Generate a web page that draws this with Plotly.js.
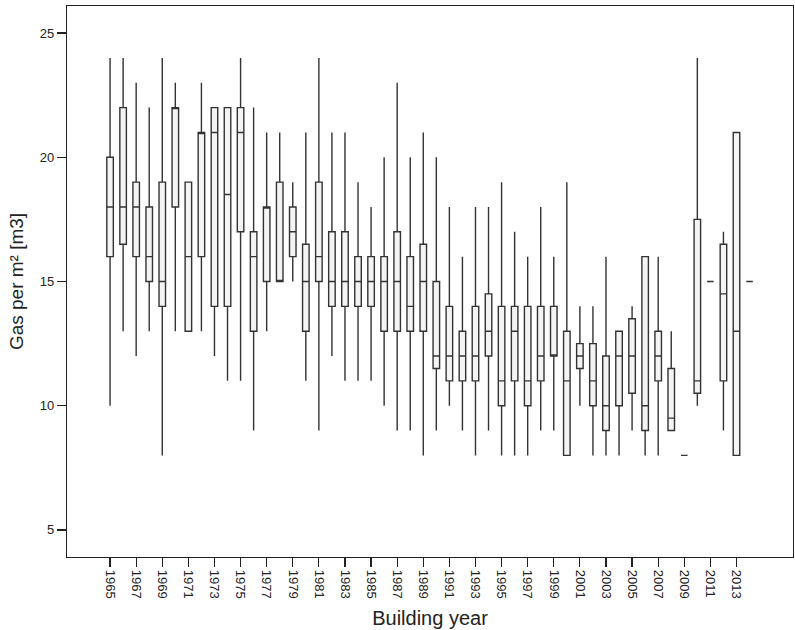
<!DOCTYPE html>
<html>
<head>
<meta charset="utf-8">
<script src="https://cdn.plot.ly/plotly-3.0.1.min.js"></script>
<style>html,body{margin:0;padding:0;background:#fff;}#chart{width:795px;height:630px;}</style>
</head>
<body>
<div id="chart"></div>
<script>
var years = [];
for (var y = 1965; y <= 2014; y++) years.push(y);

var lowerFence = [10,13,12,13,8,13,13,13,12,11,11,9,13,15,15,11,9,12,11,11,11,10,9,9,8,9,10,9,8,9,8,8,8,9,9,8,10,8,8,8,9,8,8,9,8,10,15,9,8,15];
var q1Values   = [16,16.5,16,15,14,18,13,16,14,14,17,13,15,15,16,13,15,14,14,14,14,13,13,13,13,11.5,11,11,11,12,10,11,10,11,12,8,11.5,10,9,10,10.5,9,11,9,8,10.5,15,11,8,15];
var medians    = [18,18,18,16,15,22,16,21,21,18.5,21,16,18,15,17,15,16,15,15,15,15,15,15,14,15,12,12,12,12,13,11,13,11,12,12,11,12,11,10,12,12,10,12,9.5,8,11,15,14.5,13,15];
var q3Values   = [20,22,19,18,19,22,19,21,22,22,22,17,18,19,18,16.5,19,17,17,16,16,16,17,16,16.5,15,14,13,14,14.5,14,14,14,14,14,13,12.5,12.5,12,13,13.5,16,13,11.5,8,17.5,15,16.5,21,15];
var upperFence = [24,24,23,22,24,23,19,23,22,22,24,22,21,21,19,21,24,21,21,19,18,20,23,20,21,20,18,16,18,18,19,17,16,18,16,19,14,14,16,13,14,16,16,13,8,24,15,17,21,15];

var tickYears = [];
for (var t = 1965; t <= 2013; t += 2) tickYears.push(t);
var yTicks = [5,10,15,20,25];

var trace = {
  type: 'box',
  x: years,
  q1: q1Values,
  median: medians,
  q3: q3Values,
  lowerfence: lowerFence,
  upperfence: upperFence,
  width: 0.5,
  whiskerwidth: 0,
  boxpoints: false,
  fillcolor: '#f4f4f4',
  line: {color: '#333333', width: 1.4},
  hoverinfo: 'skip',
  showlegend: false
};

var fontFam = '"Liberation Sans", Arial, Helvetica, sans-serif';
var layout = {
  width: 795, height: 630,
  margin: {l: 67, r: 2, t: 6, b: 73},
  paper_bgcolor: '#fff', plot_bgcolor: '#fff',
  showlegend: false,
  font: {family: fontFam, color: '#222'},
  xaxis: {
    range: [1961.7, 2017.33],
    tickmode: 'array', tickvals: tickYears, ticktext: tickYears.map(String),
    tickangle: 90,
    ticks: 'outside', ticklen: 9, tickwidth: 1.2, tickcolor: '#222',
    tickfont: {size: 13, color: '#222', family: fontFam},
    showgrid: false, zeroline: false,
    showline: true, linecolor: '#222', linewidth: 1.2, mirror: true,
    title: {text: 'Building year', font: {size: 20, color: '#222', family: fontFam}, standoff: 13}
  },
  yaxis: {
    range: [3.91, 26.09],
    tickmode: 'array', tickvals: yTicks,
    ticks: 'outside', ticklen: 9, tickwidth: 1.2, tickcolor: '#222',
    tickfont: {size: 13, color: '#222', family: fontFam},
    showgrid: false, zeroline: false,
    showline: true, linecolor: '#222', linewidth: 1.2, mirror: true,
    title: {text: 'Gas per m² [m3]', font: {size: 19, color: '#222', family: fontFam}, standoff: 11}
  }
};

Plotly.newPlot('chart', [trace], layout, {staticPlot: true, displayModeBar: false});
</script>
</body>
</html>
